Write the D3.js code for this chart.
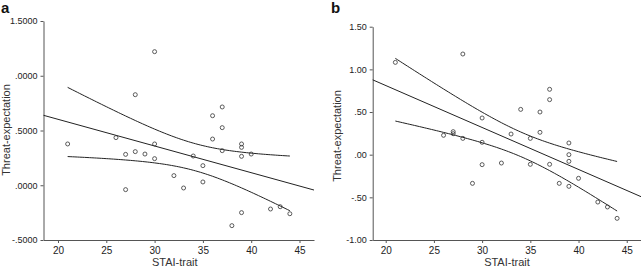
<!DOCTYPE html>
<html>
<head>
<meta charset="utf-8">
<script src="https://cdn.jsdelivr.net/npm/d3@7"></script>
<style>
  body { margin: 0; background: #fff; }
  svg { font-family: "Liberation Sans", Arial, sans-serif; }
  .tick text { fill: #222; font-size: 9px; }
  .domain, .tick line { stroke: #555; }
</style>
</head>
<body>
<svg id="chart" width="641" height="269"></svg>
<script>
  // ---------------- Data ----------------
  const traitA = [21, 26, 27, 27, 28, 28, 29, 30, 30, 30, 32, 33, 34, 35, 35, 36, 36, 37, 37, 37, 38, 39, 39, 39, 39, 40, 42, 43, 44];
  const threatA = [0.377, 0.435, 0.282, -0.04, 0.827, 0.307, 0.285, 1.22, 0.377, 0.243, 0.088, -0.025, 0.267, 0.179, 0.03,
                   0.635, 0.422, 0.715, 0.526, 0.316, -0.369, 0.377, 0.346, 0.264, -0.25, 0.285, -0.217, -0.196, -0.26];

  const traitB = [21, 26, 27, 27, 28, 28, 29, 30, 30, 30, 32, 33, 34, 35, 35, 36, 36, 37, 37, 37, 38, 39, 39, 39, 39, 40, 42, 43, 44];
  const threatB = [1.082, 0.227, 0.27, 0.246, 1.18, 0.191, -0.336, 0.43, 0.145, -0.117, -0.098, 0.242, 0.531, 0.191, -0.113,
                   0.5, 0.262, 0.766, 0.645, -0.113, -0.336, 0.137, 0.0, -0.078, -0.371, -0.277, -0.555, -0.613, -0.746];

  const xTicks = [20, 25, 30, 35, 40, 45];
  const yTicksA = [-0.5, 0, 0.5, 1.0, 1.5];
  const yLabelsA = ["-.5000", ".0000", ".5000", ".0000", "1.5000"];
  const yTicksB = [-1, -0.5, 0, 0.5, 1, 1.5];
  const yLabelsB = ["-1.00", "-.50", ".00", ".50", "1.00", "1.50"];

  const svg = d3.select("#chart");

  // linear fit + 95% CI of the mean
  function fit(xs, ys) {
    const n = xs.length;
    const mx = d3.mean(xs), my = d3.mean(ys);
    const sxx = d3.sum(xs, x => (x - mx) ** 2);
    const sxy = d3.sum(xs, (x, i) => (x - mx) * (ys[i] - my));
    const b = sxy / sxx, a = my - b * mx;
    const sse = d3.sum(xs, (x, i) => (ys[i] - a - b * x) ** 2);
    const s = Math.sqrt(sse / (n - 2));
    const t = 2.052; // t(0.975, 27)
    const yhat = x => a + b * x;
    const half = x => t * s * Math.sqrt(1 / n + (x - mx) ** 2 / sxx);
    return { yhat, half };
  }

  function panel(opt) {
    const x = d3.scaleLinear().domain(opt.xDomain).range(opt.xRange);
    const y = d3.scaleLinear().domain(opt.yDomain).range([240, opt.top]);
    const g = svg.append("g");

    g.append("g")
      .attr("transform", "translate(0,240)")
      .call(d3.axisBottom(x).tickValues(xTicks).tickSize(3).tickSizeOuter(0).tickPadding(4))
      .call(a => a.selectAll("text").style("font-size", "10px"));

    g.append("g")
      .attr("transform", `translate(${opt.xRange[0]},0)`)
      .call(d3.axisLeft(y).tickValues(opt.yTicks).tickSize(3).tickSizeOuter(0).tickPadding(3)
        .tickFormat((d, i) => opt.yLabels[i]));

    const f = fit(opt.xs, opt.ys);
    const [x0, x1] = d3.extent(opt.xs);
    const xsFine = d3.range(x0, x1 + 0.001, 0.25);
    const line = d3.line().x(d => x(d[0])).y(d => y(d[1]));

    g.append("path")
      .attr("d", line([[opt.xDomain[0], f.yhat(opt.xDomain[0])], [opt.xDomain[1], f.yhat(opt.xDomain[1])]]))
      .attr("fill", "none").attr("stroke", "#222").attr("stroke-width", 1);
    g.append("path")
      .attr("d", line(xsFine.map(v => [v, f.yhat(v) + f.half(v)])))
      .attr("fill", "none").attr("stroke", "#222").attr("stroke-width", 1);
    g.append("path")
      .attr("d", line(xsFine.map(v => [v, f.yhat(v) - f.half(v)])))
      .attr("fill", "none").attr("stroke", "#222").attr("stroke-width", 1);

    g.selectAll("circle")
      .data(opt.xs.map((v, i) => [v, opt.ys[i]]))
      .enter()
      .append("circle")
      .attr("cx", d => x(d[0]))
      .attr("cy", d => y(d[1]))
      .attr("r", 2)
      .attr("fill", "none")
      .attr("stroke", "#333")
      .attr("stroke-width", 0.8);

    g.append("text")
      .attr("x", (opt.xRange[0] + opt.xRange[1]) / 2 + opt.titleDx)
      .attr("y", 266)
      .attr("text-anchor", "middle")
      .attr("font-size", "11px").attr("fill", "#333")
      .text("STAI-trait");

    g.append("text")
      .attr("transform", `translate(${opt.yTitleX},${opt.yTitleY}) rotate(-90)`)
      .attr("text-anchor", "middle")
      .attr("font-size", "11px").attr("fill", "#333")
      .text("Threat-expectation");

    g.append("text")
      .attr("x", opt.letterX).attr("y", 13)
      .attr("font-size", "15px").attr("font-weight", "bold").attr("fill", "#111")
      .text(opt.letter);
  }

  panel({
    xs: traitA, ys: threatA,
    xDomain: [18.5, 46.5], xRange: [43.5, 314],
    yDomain: [-0.5, 1.5], top: 21,
    yTicks: yTicksA, yLabels: yLabelsA,
    titleDx: -4, yTitleX: 10, yTitleY: 130,
    letter: "a", letterX: 1
  });

  panel({
    xs: traitB, ys: threatB,
    xDomain: [18.65, 46.5], xRange: [372.7, 641.2],
    yDomain: [-1, 1.5], top: 26.7,
    yTicks: yTicksB, yLabels: yLabelsB,
    titleDx: 0, yTitleX: 341, yTitleY: 136,
    letter: "b", letterX: 331
  });
</script>
</body>
</html>
